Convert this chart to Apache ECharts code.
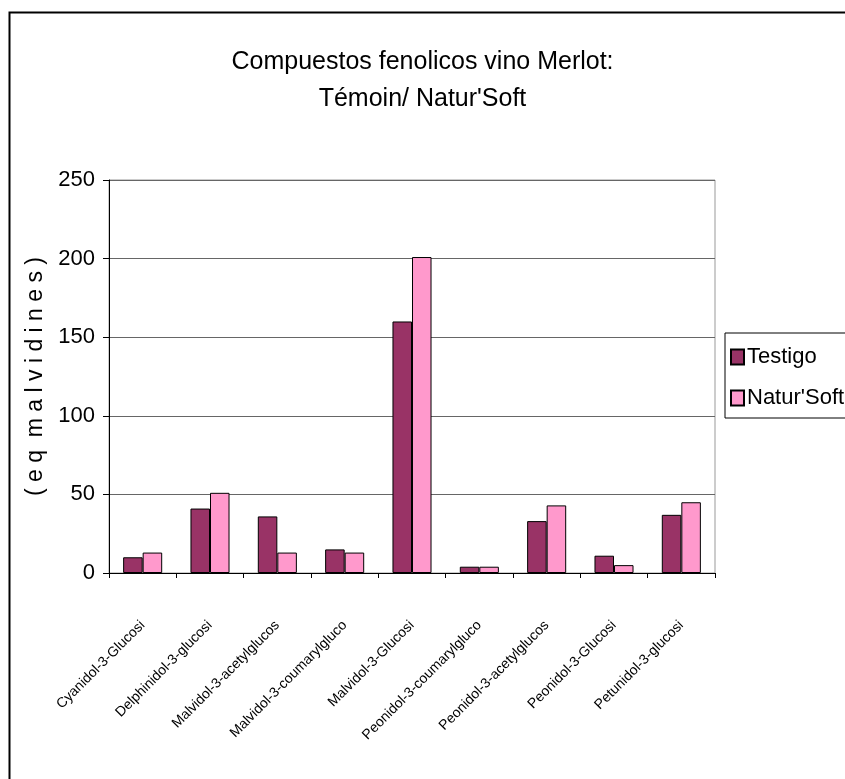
<!DOCTYPE html>
<html>
<head>
<meta charset="utf-8">
<script src="https://cdn.jsdelivr.net/npm/echarts@6/dist/echarts.min.js"></script>
<style>
  html, body { margin: 0; padding: 0; background: #fff; }
  #chart { width: 845px; height: 779px; }
</style>
</head>
<body>
<div id="chart"></div>
<script>
// data
var categories = [
  'Cyanidol-3-Glucosi',
  'Delphinidol-3-glucosi',
  'Malvidol-3-acetylglucos',
  'Malvidol-3-coumarylgluco',
  'Malvidol-3-Glucosi',
  'Peonidol-3-coumarylgluco',
  'Peonidol-3-acetylglucos',
  'Peonidol-3-Glucosi',
  'Petunidol-3-glucosi'
]
var testigo = [10, 41, 36, 15, 160, 4, 33, 11, 37]
var naturSoft = [13, 51, 13, 13, 201, 4, 43, 5, 45]
var seriesNames = ['Testigo', "Natur'Soft"]

var font = "'Liberation Sans', Arial, sans-serif"

var chart = echarts.init(document.getElementById('chart'))

chart.setOption({
  backgroundColor: '#fff',
  animation: false,
  title: {
    text: 'Compuestos fenolicos vino Merlot:\nTémoin/ Natur\'Soft',
    left: 'center',
    top: 39,
    textStyle: {
      fontFamily: font,
      fontSize: 25,
      fontWeight: 'normal',
      color: '#000',
      lineHeight: 37
    }
  },
  legend: {
    orient: 'vertical',
    left: 725,
    top: 333,
    width: 140,
    padding: [13, 40, 9, 5],
    itemGap: 19,
    itemWidth: 13,
    itemHeight: 15,
    icon: 'rect',
    borderColor: '#000',
    borderWidth: 1,
    data: seriesNames,
    textStyle: {
      fontFamily: font,
      fontSize: 22,
      color: '#000',
      padding: [0, 0, 0, -2]
    }
  },
  graphic: [{
    type: 'rect',
    left: 7,
    top: 10,
    shape: { width: 900, height: 900 },
    style: { fill: null, stroke: '#000', lineWidth: 2 },
    silent: true
  }],
  grid: {
    left: 109,
    right: 130,
    top: 180,
    bottom: 206,
    show: true,
    borderColor: '#999',
    borderWidth: 1
  },
  xAxis: {
    type: 'category',
    data: categories,
    axisLine: { lineStyle: { color: '#000', width: 1 } },
    axisTick: { show: true, length: 5, lineStyle: { color: '#000' } },
    axisLabel: {
      rotate: 45,
      interval: 0,
      margin: 50,
      fontFamily: font,
      fontSize: 14,
      color: '#000'
    }
  },
  yAxis: {
    type: 'value',
    min: 0,
    max: 250,
    interval: 50,
    name: '( e q  m a l v i d i n e s )',
    nameLocation: 'middle',
    nameGap: 60,
    nameTextStyle: {
      fontFamily: font,
      fontSize: 23,
      color: '#000'
    },
    axisLine: { show: true, lineStyle: { color: '#000', width: 1 } },
    axisTick: { show: true, length: 6, lineStyle: { color: '#000' } },
    axisLabel: {
      margin: 14,
      fontFamily: font,
      fontSize: 22,
      color: '#000'
    },
    splitLine: { lineStyle: { color: '#666', width: 1 } }
  },
  series: [{
    name: seriesNames[0],
    type: 'bar',
    data: testigo,
    barWidth: '29%',
    barGap: '0%',
    itemStyle: { color: '#993366', borderColor: '#000', borderWidth: 1 }
  }, {
    name: seriesNames[1],
    type: 'bar',
    data: naturSoft,
    barWidth: '29%',
    itemStyle: { color: '#ff99cc', borderColor: '#000', borderWidth: 1 }
  }]
})
</script>
</body>
</html>
